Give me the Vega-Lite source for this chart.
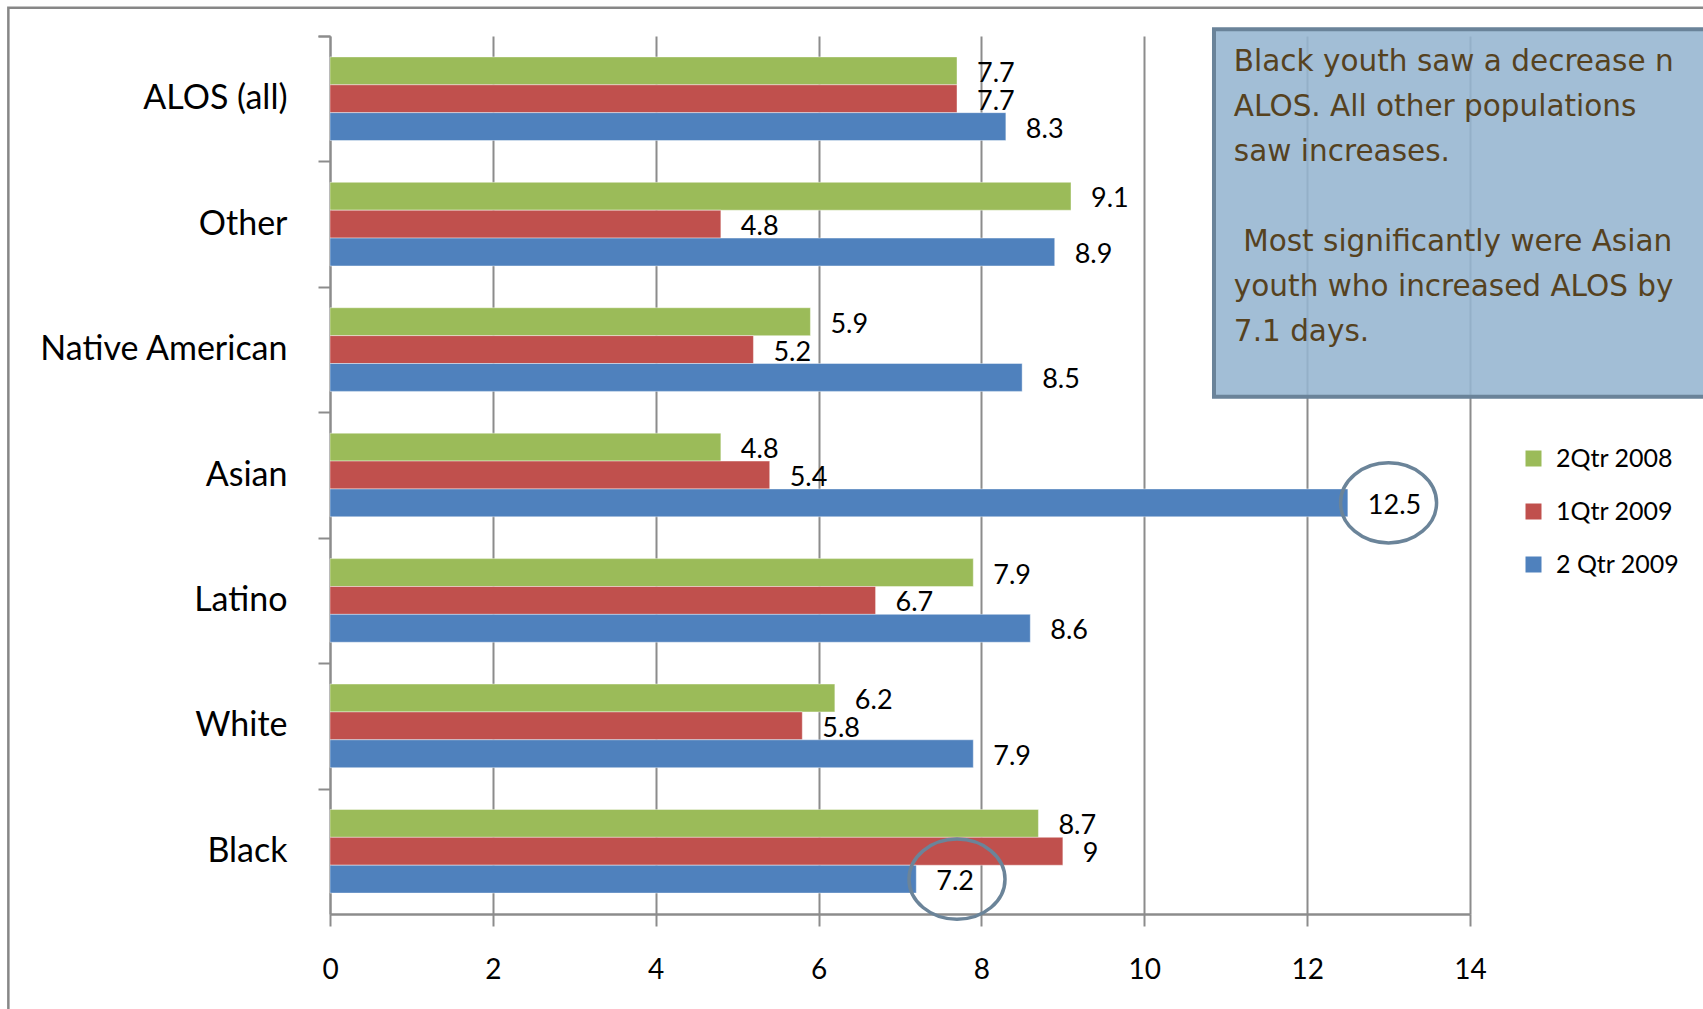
{
  "$schema": "https://vega.github.io/schema/vega-lite/v6.json",
  "width": 1140,
  "height": 878,
  "autosize": {"type": "none"},
  "padding": {"left": 330, "top": 36, "right": 233, "bottom": 95},
  "background": "white",
  "config": {"view": {"stroke": null}, "font": "Lato"},
  "datasets": {
    "bars": [
      {"cat": "ALOS (all)", "series": "2Qtr 2008", "value": 7.7},
      {"cat": "ALOS (all)", "series": "1Qtr  2009", "value": 7.7},
      {"cat": "ALOS (all)", "series": "2 Qtr 2009", "value": 8.3},
      {"cat": "Other", "series": "2Qtr 2008", "value": 9.1},
      {"cat": "Other", "series": "1Qtr  2009", "value": 4.8},
      {"cat": "Other", "series": "2 Qtr 2009", "value": 8.9},
      {"cat": "Native American", "series": "2Qtr 2008", "value": 5.9},
      {"cat": "Native American", "series": "1Qtr  2009", "value": 5.2},
      {"cat": "Native American", "series": "2 Qtr 2009", "value": 8.5},
      {"cat": "Asian", "series": "2Qtr 2008", "value": 4.8},
      {"cat": "Asian", "series": "1Qtr  2009", "value": 5.4},
      {"cat": "Asian", "series": "2 Qtr 2009", "value": 12.5},
      {"cat": "Latino", "series": "2Qtr 2008", "value": 7.9},
      {"cat": "Latino", "series": "1Qtr  2009", "value": 6.7},
      {"cat": "Latino", "series": "2 Qtr 2009", "value": 8.6},
      {"cat": "White", "series": "2Qtr 2008", "value": 6.2},
      {"cat": "White", "series": "1Qtr  2009", "value": 5.8},
      {"cat": "White", "series": "2 Qtr 2009", "value": 7.9},
      {"cat": "Black", "series": "2Qtr 2008", "value": 8.7},
      {"cat": "Black", "series": "1Qtr  2009", "value": 9},
      {"cat": "Black", "series": "2 Qtr 2009", "value": 7.2}
    ],
    "rings": [
      {"cat": "Asian", "series": "2 Qtr 2009", "x": 13.0},
      {"cat": "Black", "series": "2 Qtr 2009", "x": 7.7}
    ],
    "note": [
      {"text": "Black youth saw a decrease n\nALOS. All other populations\nsaw increases.\n\u200b\n\u200b\u00a0Most significantly were Asian\nyouth who increased ALOS by\n7.1 days."}
    ]
  },
  "layer": [
    {
      "layer": [
        {
          "data": {"name": "bars"},
          "mark": {"type": "bar", "stroke": "white", "strokeWidth": 0.6, "strokeOpacity": 0.7},
          "encoding": {
            "y": {
              "field": "cat", "type": "nominal",
              "scale": {"domain": ["ALOS (all)", "Other", "Native American", "Asian", "Latino", "White", "Black"], "paddingInner": 0.3333, "paddingOuter": 0.1667},
              "axis": {
                "title": null, "labelFontSize": 34, "labelColor": "black", "labelPadding": 31, "labelLimit": 500,
                "tickSize": 12, "bandPosition": 0, "tickExtra": true, "tickOffset": -20.9, "labelOffset": 20.9,
                "tickColor": "#8c8c8c", "tickWidth": 2,
                "domainColor": "#8c8c8c", "domainWidth": 2, "grid": false
              }
            },
            "yOffset": {
              "field": "series", "type": "nominal",
              "scale": {"domain": ["2Qtr 2008", "1Qtr  2009", "2 Qtr 2009"], "paddingInner": 0, "paddingOuter": 0}
            },
            "x": {
              "field": "value", "type": "quantitative",
              "scale": {"domain": [0, 14], "nice": false, "zero": true},
              "axis": {
                "title": null, "values": [0, 2, 4, 6, 8, 10, 12, 14], "format": "d", "labelFlush": false, "grid": true,
                "gridColor": "#8c8c8c", "gridWidth": 2, "labelFontSize": 28, "labelColor": "black",
                "labelPadding": 30, "tickSize": 12, "tickColor": "#8c8c8c", "tickWidth": 2,
                "domainColor": "#8c8c8c", "domainWidth": 2.5
              }
            },
            "color": {
              "field": "series", "type": "nominal",
              "scale": {"domain": ["2Qtr 2008", "1Qtr  2009", "2 Qtr 2009"], "range": ["#9bbb59", "#c0504d", "#4f81bd"]},
              "legend": {
                "orient": "none", "legendX": 1191, "legendY": 410, "title": null,
                "symbolType": "square", "symbolSize": 256, "symbolStrokeWidth": 0,
                "labelFontSize": 25, "labelColor": "black", "rowPadding": 27, "labelOffset": 10, "padding": 0
              }
            }
          }
        },
        {
          "data": {"name": "bars"},
          "mark": {"type": "text", "align": "left", "baseline": "middle", "dx": 20, "dy": 3, "fontSize": 27, "color": "black"},
          "encoding": {
            "y": {"field": "cat", "type": "nominal", "scale": {"domain": ["ALOS (all)", "Other", "Native American", "Asian", "Latino", "White", "Black"], "paddingInner": 0.3333, "paddingOuter": 0.1667}},
            "yOffset": {"field": "series", "type": "nominal", "scale": {"domain": ["2Qtr 2008", "1Qtr  2009", "2 Qtr 2009"], "paddingInner": 0, "paddingOuter": 0}},
            "x": {"field": "value", "type": "quantitative", "scale": {"domain": [0, 14], "nice": false}},
            "text": {"field": "value", "type": "quantitative"}
          }
        },
        {
          "data": {"name": "rings"},
          "mark": {
            "type": "point",
            "shape": "M -1 0 C -1 -0.461 -0.552 -0.835 0 -0.835 C 0.552 -0.835 1 -0.461 1 0 C 1 0.461 0.552 0.835 0 0.835 C -0.552 0.835 -1 0.461 -1 0 Z",
            "size": 9216, "filled": false, "color": "#6b8499", "strokeWidth": 3.5, "opacity": 1
          },
          "encoding": {
            "y": {"field": "cat", "type": "nominal", "scale": {"domain": ["ALOS (all)", "Other", "Native American", "Asian", "Latino", "White", "Black"], "paddingInner": 0.3333, "paddingOuter": 0.1667}},
            "yOffset": {"field": "series", "type": "nominal", "scale": {"domain": ["2Qtr 2008", "1Qtr  2009", "2 Qtr 2009"], "paddingInner": 0, "paddingOuter": 0}},
            "x": {"field": "x", "type": "quantitative", "scale": {"domain": [0, 14], "nice": false}}
          }
        }
      ]
    },
    {
      "layer": [
        {
          "data": {"values": [{}]},
          "mark": {"type": "rect", "filled": false, "color": "#878787", "strokeWidth": 2.5},
          "encoding": {
            "x": {"datum": -3.95, "type": "quantitative", "scale": {"domain": [0, 14], "nice": false}},
            "x2": {"datum": 17.5},
            "y": {"datum": -0.225, "type": "quantitative", "scale": {"domain": [0, 7], "reverse": true, "nice": false, "zero": false}, "axis": null},
            "y2": {"datum": 8.5}
          }
        },
        {
          "data": {"values": [{}]},
          "mark": {"type": "rect", "fill": "#95b5d0", "fillOpacity": 0.88, "stroke": "#6a8399", "strokeWidth": 4},
          "encoding": {
            "x": {"datum": 10.856, "type": "quantitative", "scale": {"domain": [0, 14], "nice": false}},
            "x2": {"datum": 17.5},
            "y": {"datum": -0.053, "type": "quantitative", "scale": {"domain": [0, 7], "reverse": true, "nice": false, "zero": false}, "axis": null},
            "y2": {"datum": 2.876}
          }
        },
        {
          "data": {"name": "note"},
          "mark": {"type": "text", "align": "left", "baseline": "top", "font": "DejaVu Sans", "fontSize": 29.5, "lineHeight": 45, "color": "#56421f", "lineBreak": "\n"},
          "encoding": {
            "x": {"datum": 11.1, "type": "quantitative", "scale": {"domain": [0, 14], "nice": false}},
            "y": {"datum": 0.095, "type": "quantitative", "scale": {"domain": [0, 7], "reverse": true, "nice": false, "zero": false}, "axis": null},
            "text": {"field": "text"}
          }
        }
      ]
    }
  ],
  "resolve": {"scale": {"y": "independent"}}
}
